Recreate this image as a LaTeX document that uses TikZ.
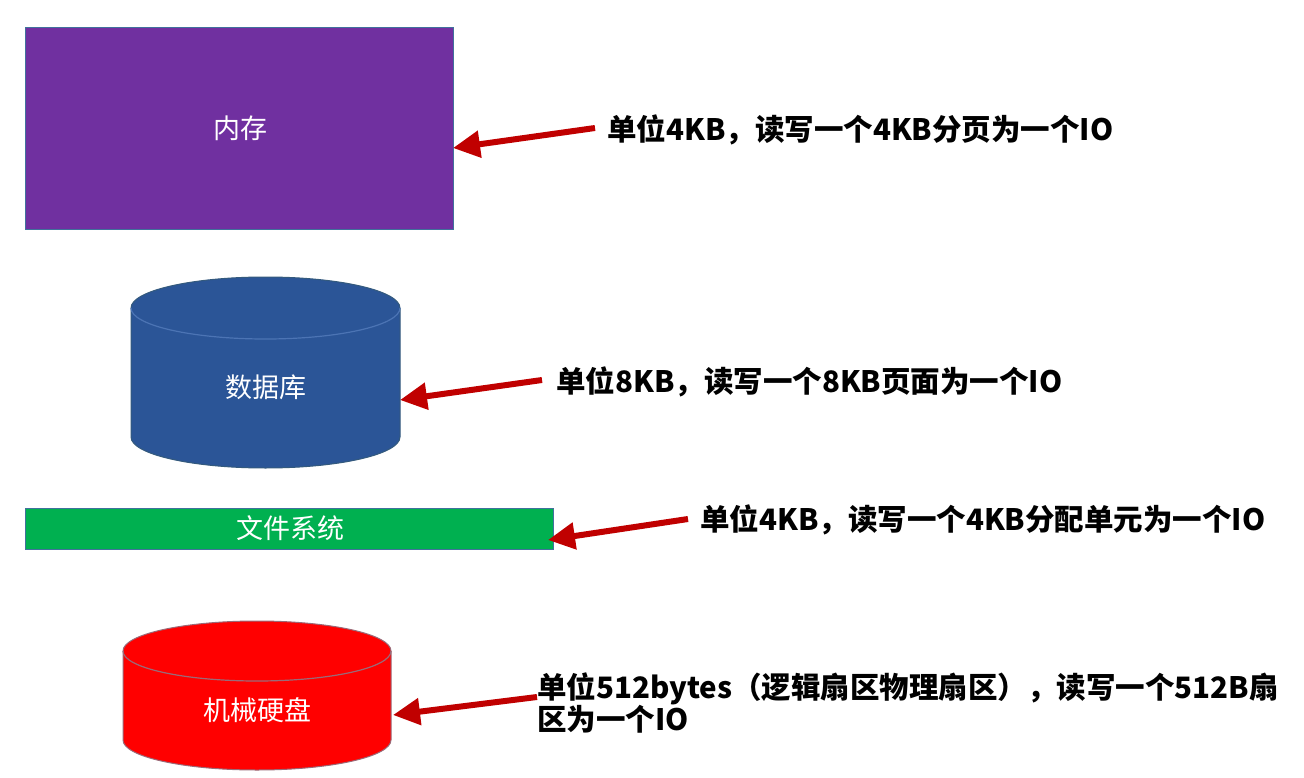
\documentclass[tikz,border=0pt]{standalone}
\usepackage{fontspec}
\setmainfont{Noto Sans CJK SC}
\newfontfamily\cjk{Noto Sans CJK SC}
\usetikzlibrary{arrows.meta}
\definecolor{memfill}{HTML}{7030A0}
\definecolor{dbfill}{HTML}{2B5597}
\definecolor{dbline}{HTML}{4C74B4}
\definecolor{fsfill}{HTML}{00B050}
\definecolor{hdfill}{HTML}{FF0000}
\definecolor{hdline}{HTML}{9A6A78}
\definecolor{edge}{HTML}{41719C}
\definecolor{arrowred}{HTML}{C00000}
\tikzset{
  inlabel/.style={text=white,font=\cjk\fontsize{27}{32}\selectfont,inner sep=0pt},
  note/.style={text=black,font=\cjk\bfseries\fontsize{29.5}{32}\selectfont,inner sep=0pt,anchor=west},
  pointer/.style={draw=arrowred,line width=6pt,-{Triangle[length=27pt,width=26pt]}},
}
\begin{document}
\begin{tikzpicture}[x=1pt,y=-1pt]
\useasboundingbox[fill=white] (0,0) rectangle (1304,778);
% memory
\node[draw=edge,line width=1pt,fill=memfill,minimum width=428pt,minimum height=202pt,anchor=north west,inner sep=0pt] (mem) at (25,27) {};
\node[inlabel] (memt) at (240,128) {内存};
% database cylinder
\fill[dbfill,draw=edge!80!black,line width=1pt] (131,437) arc[start angle=180,end angle=0,x radius=134.5,y radius=31] -- (400,308) arc[start angle=0,end angle=-180,x radius=134.5,y radius=31] -- cycle;
\draw[dbline,line width=1.2pt] (131,308) arc[start angle=180,end angle=0,x radius=134.5,y radius=31];
\node[inlabel] (db) at (266,387) {数据库};
\coordinate (dbr) at (400,400);
% file system
\node[draw=edge,line width=1pt,fill=fsfill,minimum width=528pt,minimum height=41pt,anchor=north west,inner sep=0pt] (fs) at (25,508) {};
\node[inlabel] (fst) at (290,528) {文件系统};
% hard disk cylinder
\fill[hdfill,draw=hdline,line width=1pt] (123,740) arc[start angle=180,end angle=0,x radius=134,y radius=30] -- (391,651) arc[start angle=0,end angle=-180,x radius=134,y radius=30] -- cycle;
\draw[hdline,line width=1.2pt] (123,651) arc[start angle=180,end angle=0,x radius=134,y radius=30];
\node[inlabel] (hd) at (257,710) {机械硬盘};
\coordinate (hdr) at (393,715);
% notes
\node[note] (n1) at (607,130) {单位4KB，读写一个4KB分页为一个IO};
\node[note] (n2) at (556,382) {单位8KB，读写一个8KB页面为一个IO};
\node[note] (n3) at (700,520) {单位4KB，读写一个4KB分配单元为一个IO};
\node[note,align=left,anchor=north west] (n4) at (537,673) {单位512bytes（逻辑扇区物理扇区），读写一个512B扇\\区为一个IO};
% arrows
\coordinate (a1s) at (595,128);
\coordinate (a1e) at (453,148);
\coordinate (a2s) at (542,380);
\coordinate (a3s) at (688,519);
\coordinate (a3e) at (548,540);
\coordinate (a4s) at (537,697);
\draw[pointer] (a1s) -- (a1e);
\draw[pointer] (a2s) -- (dbr);
\draw[pointer] (a3s) -- (a3e);
\draw[pointer] (a4s) -- (hdr);
\end{tikzpicture}
\end{document}
